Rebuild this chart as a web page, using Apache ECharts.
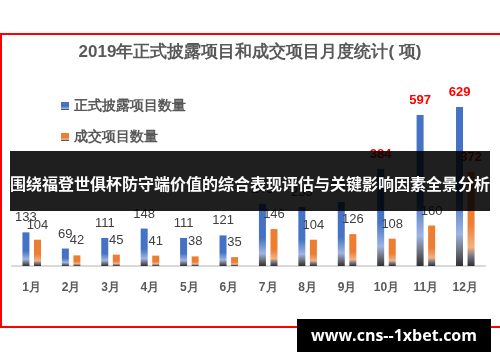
<!DOCTYPE html>
<html>
<head>
<meta charset="utf-8">
<script src="https://cdn.jsdelivr.net/npm/echarts@6/dist/echarts.min.js"></script>
<style>
  html, body { margin: 0; padding: 0; background: #fff; }
  #chart { width: 500px; height: 362px; }
</style>
</head>
<body>
<div id="chart"></div>
<script>
const months = ['1月', '2月', '3月', '4月', '5月', '6月', '7月', '8月', '9月', '10月', '11月', '12月']
const disclosed = [133, 69, 111, 148, 111, 121, 246, 233, 253, 384, 597, 629]
const traded = [104, 42, 45, 41, 38, 35, 146, 104, 126, 108, 160, 372]
const redFrom = 300

const chart = echarts.init(document.getElementById('chart'))

const fade = (top, light, dark) => new echarts.graphic.LinearGradient(0, 0, 0, 1, [
    { offset: 0, color: top },
    { offset: 0.55, color: top },
    { offset: 0.8, color: light },
    { offset: 0.9, color: '#707480' },
    { offset: 1, color: dark }
])

const withLabels = values => values.map(v => ({
    value: v,
    label: v >= redFrom ? { color: '#ff0000', fontWeight: 'bold' } : {}
}))

const option = {
    animation: false,
    title: {
        text: '2019年正式披露项目和成交项目月度统计( 项)',
        left: 'center',
        top: 39,
        textStyle: { fontSize: 17, fontWeight: 'bold', color: '#595959' }
    },
    legend: {
        orient: 'vertical',
        left: 56,
        top: 94,
        itemGap: 17,
        itemWidth: 8,
        itemHeight: 8,
        icon: 'rect',
        textStyle: { fontSize: 14, fontWeight: 'bold', color: '#595959' },
        data: ['正式披露项目数量', '成交项目数量']
    },
    grid: { left: 12, right: 15, top: 70, bottom: 96 },
    xAxis: {
        type: 'category',
        data: months,
        axisTick: { show: false },
        axisLine: { lineStyle: { color: '#d9d9d9', width: 2 } },
        axisLabel: { fontSize: 12, fontWeight: 'bold', color: '#595959', margin: 16 }
    },
    yAxis: {
        type: 'value',
        min: 0,
        max: 775,
        show: false,
        splitLine: { show: false }
    },
    series: [
        {
            name: '正式披露项目数量',
            type: 'bar',
            barWidth: 7,
            barGap: '65%',
            data: withLabels(disclosed),
            itemStyle: { color: fade('#4472c4', '#9db5e3', '#303030') },
            label: { show: true, position: 'top', distance: 8, fontSize: 13, color: '#404040' }
        },
        {
            name: '成交项目数量',
            type: 'bar',
            barWidth: 7,
            data: withLabels(traded),
            itemStyle: { color: fade('#ed7d31', '#f4b183', '#303030') },
            label: { show: true, position: 'top', distance: 8, fontSize: 13, color: '#404040' }
        }
    ],
    graphic: [
        {
            type: 'rect',
            z: 50,
            shape: { x: 1, y: 34, width: 520, height: 293 },
            style: { fill: 'none', stroke: '#ff0000', lineWidth: 2 }
        },
        {
            type: 'rect',
            z: 100,
            shape: { x: 10, y: 151, width: 480, height: 60 },
            style: { fill: 'rgba(0,0,0,0.88)' }
        },
        {
            type: 'text',
            z: 101,
            x: 250,
            y: 184,
            style: {
                text: '围绕福登世俱杯防守端价值的综合表现评估与关键影响因素全景分析',
                fill: '#fff',
                font: 'bold 16px "Noto Sans CJK SC", sans-serif',
                align: 'center',
                verticalAlign: 'middle'
            }
        },
        {
            type: 'rect',
            z: 100,
            shape: { x: 297, y: 319, width: 194, height: 33 },
            style: { fill: '#000' }
        },
        {
            type: 'text',
            z: 101,
            x: 394,
            y: 336,
            style: {
                text: 'www.cns--1xbet.com',
                fill: '#fff',
                font: 'bold 16px "Open Sans", sans-serif',
                align: 'center',
                verticalAlign: 'middle'
            }
        }
    ]
}

chart.setOption(option)
</script>
</body>
</html>
